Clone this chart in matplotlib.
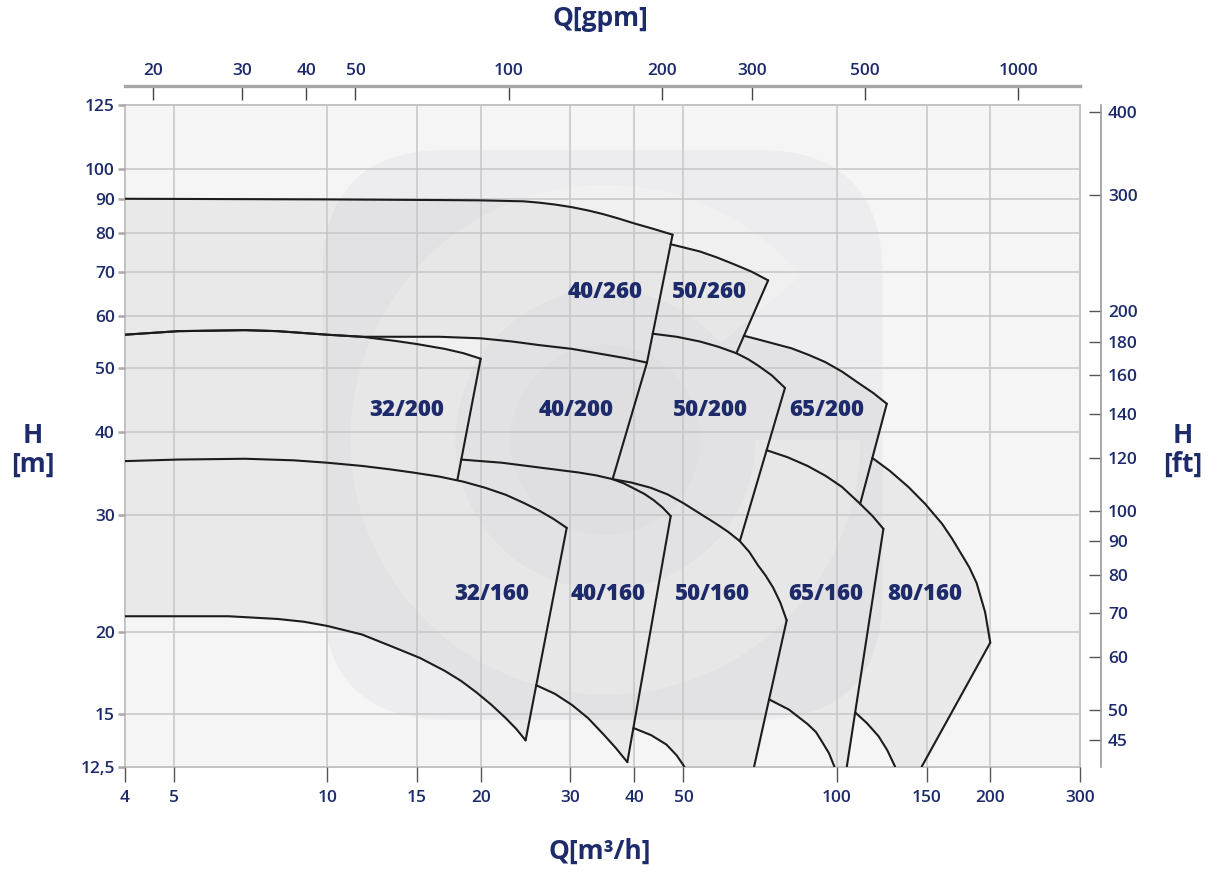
import matplotlib
matplotlib.use("Agg")
import matplotlib.pyplot as plt
import matplotlib.transforms as mtransforms
from matplotlib.patches import Polygon, FancyBboxPatch, Wedge, Circle
from matplotlib.ticker import NullLocator


NAVY = "#1e2b6b"
LINE = "#1c1c1c"
FILL = "#e9e9e9"
BACKGROUND = "#f5f5f5"

M3H_TO_GPM = 4.40287
M_TO_FT = 3.28084

# axis ticks
Q_TICKS = [4, 5, 10, 15, 20, 30, 40, 50, 100, 150, 200, 300]
H_TICKS = [12.5, 15, 20, 30, 40, 50, 60, 70, 80, 90, 100, 125]
H_TICK_LABELS = ["12,5", "15", "20", "30", "40", "50", "60", "70", "80", "90", "100", "125"]
GPM_TICKS = [20, 30, 40, 50, 100, 200, 300, 500, 1000]
FT_TICKS = [45, 50, 60, 70, 80, 90, 100, 120, 140, 160, 180, 200, 300, 400]

# pump envelopes, (Q m3/h, H m)
TOP_40_260 = [(4, 90.2), (10, 90.0), (16.6, 89.8), (20.0, 89.7), (24.3, 89.4),
              (26.0, 89.0), (28.0, 88.4), (30.2, 87.6), (32.5, 86.6), (34.8, 85.5),
              (37.3, 84.2), (40.0, 82.8), (43.7, 81.2), (47.6, 79.6)]
RIGHT_40_260 = [(47.6, 79.6), (42.4, 51.0)]
BOTTOM_40_260 = [(4, 56.2), (5.1, 56.9), (6.9, 57.1), (8.0, 56.9), (10, 56.2),
                 (11.7, 55.8), (13.7, 55.8), (16.6, 55.8), (20.0, 55.5), (23.0, 54.9),
                 (26.1, 54.2), (30.2, 53.5), (34.8, 52.5), (38.5, 51.8), (42.4, 51.0)]

TOP_50_260 = [(47.2, 77.0), (53.8, 75.1), (58.0, 73.6), (62.6, 71.9), (68.0, 70.0),
              (73.3, 67.9)]
RIGHT_50_260 = [(73.3, 67.9), (63.5, 52.7)]

TOP_32_200 = [(4, 56.2), (5.1, 56.9), (6.9, 57.1), (8.0, 56.9), (10, 56.2),
              (11.7, 55.8), (13.6, 55.0), (15.0, 54.4), (17.0, 53.5), (18.5, 52.7),
              (20.0, 51.7)]
RIGHT_32_200 = [(20.0, 51.7), (18.0, 33.9)]

RIGHT_40_200 = [(42.4, 51.0), (36.3, 34.0)]

TOP_50_200 = [(43.5, 56.4), (48.5, 55.8), (53.8, 54.9), (58.5, 53.9), (63.5, 52.7),
              (67.0, 51.6), (70.0, 50.5), (74.5, 48.8), (79.1, 46.7)]
RIGHT_50_200 = [(79.1, 46.7), (64.5, 27.4)]

TOP_65_200 = [(65.7, 56.0), (70.0, 55.3), (81.5, 53.6), (88.0, 52.4), (94.9, 51.1),
              (102.5, 49.4), (110.3, 47.5), (117.8, 45.9), (125.3, 44.2)]
RIGHT_65_200 = [(125.3, 44.2), (111.1, 31.2)]

TOP_32_160 = [(4, 36.2), (5.1, 36.4), (6.9, 36.5), (8.6, 36.3), (10, 36.0),
              (11.7, 35.6), (13.2, 35.2), (14.7, 34.8), (16.6, 34.3), (18.5, 33.7),
              (20.4, 33.0), (22.4, 32.2), (24.3, 31.3), (26.0, 30.5), (27.8, 29.6),
              (29.5, 28.7)]
RIGHT_32_160 = [(29.5, 28.7), (24.5, 13.7)]
BOTTOM_32_160 = [(4, 21.1), (5, 21.1), (6.4, 21.1), (8.0, 20.9), (9.0, 20.7),
                 (10, 20.4), (11.7, 19.8), (13.6, 18.9), (15.2, 18.25), (17.0, 17.45),
                 (18.3, 16.85), (19.6, 16.2), (21.0, 15.5), (22.4, 14.8), (23.5, 14.25),
                 (24.5, 13.7)]

TOP_40_160 = [(18.3, 36.4), (22.0, 36.0), (26.1, 35.4), (31.1, 34.8), (33.7, 34.45),
              (36.3, 34.0), (38.2, 33.5), (40.0, 32.9), (41.9, 32.3), (43.7, 31.6),
              (45.5, 30.8), (47.2, 29.9)]
RIGHT_40_160 = [(47.2, 29.9), (38.8, 12.7)]
BOTTOM_40_160 = [(25.7, 16.6), (28.0, 16.1), (30.2, 15.5), (32.5, 14.8), (34.8, 14.0),
                 (36.8, 13.35), (38.8, 12.7)]

TOP_50_160 = [(36.3, 34.0), (39.5, 33.6), (43.1, 33.0), (46.5, 32.25), (49.9, 31.3),
              (58.0, 29.1), (61.2, 28.3), (64.5, 27.4), (67.3, 26.4), (70.0, 25.2),
              (72.5, 24.3), (75.0, 23.3), (77.5, 22.1), (79.7, 20.8)]
RIGHT_50_160 = [(79.7, 20.8), (68.8, 12.5)]
BOTTOM_50_160 = [(39.9, 14.3), (43.2, 13.95), (46.3, 13.5), (48.5, 13.0), (50.2, 12.5)]

TOP_65_160 = [(72.8, 37.6), (80.0, 36.7), (87.6, 35.6), (95.0, 34.4), (102.3, 33.1),
              (111.1, 31.2), (117.5, 29.9), (123.4, 28.6)]
RIGHT_65_160 = [(123.4, 28.6), (104.6, 12.5)]
BOTTOM_65_160 = [(73.6, 15.8), (80.5, 15.25), (87.6, 14.5), (91.0, 14.1),
                 (93.7, 13.6), (96.5, 13.1), (98.9, 12.5)]

TOP_80_160 = [(117.4, 36.6), (127.0, 35.0), (138.1, 33.1), (149.0, 31.2),
              (160.9, 29.1), (168.0, 27.7), (175.5, 26.2), (182.0, 25.0),
              (188.0, 23.7), (195.4, 21.4), (200, 19.25)]
RIGHT_80_160 = [(200, 19.25), (146.7, 12.5)]
BOTTOM_80_160 = [(108.6, 15.1), (114.5, 14.55), (120.7, 13.9), (125.5, 13.25),
                 (130.1, 12.5)]

# model name -> label anchor (Q, H)
LABELS = {
    "40/260": (35.1, 65.1),
    "50/260": (56.1, 65.1),
    "32/200": (14.3, 43.3),
    "40/200": (30.8, 43.3),
    "50/200": (56.4, 43.3),
    "65/200": (95.6, 43.3),
    "32/160": (21.0, 22.8),
    "40/160": (35.6, 22.8),
    "50/160": (56.9, 22.8),
    "65/160": (95.2, 22.8),
    "80/160": (148.5, 22.8),
}


def upto(points, q):
    return [p for p in points if p[0] <= q]


def from_(points, q):
    return [p for p in points if p[0] >= q]


def region_outlines():
    return [
        TOP_40_260 + RIGHT_40_260[1:] + BOTTOM_40_260[::-1],
        TOP_50_260 + RIGHT_50_260[1:] + upto(TOP_50_200, RIGHT_50_260[1][0])[::-1],
        TOP_32_200 + RIGHT_32_200[1:] + upto(TOP_32_160, RIGHT_32_200[1][0])[::-1],
        from_(BOTTOM_40_260, RIGHT_32_200[0][0]) + RIGHT_40_200[1:]
        + upto(TOP_40_160, RIGHT_40_200[1][0] - 0.1)[::-1] + [RIGHT_32_200[0]],
        TOP_50_200 + RIGHT_50_200[1:] + upto(TOP_50_160, RIGHT_50_200[1][0] - 0.1)[::-1]
        + [RIGHT_40_200[0]],
        TOP_65_200 + RIGHT_65_200[1:] + upto(TOP_65_160, RIGHT_65_200[1][0] - 0.1)[::-1]
        + [RIGHT_50_200[0], RIGHT_50_260[1]],
        TOP_32_160 + RIGHT_32_160[1:] + BOTTOM_32_160[::-1],
        TOP_40_160 + RIGHT_40_160[1:] + BOTTOM_40_160[:-1][::-1]
        + [RIGHT_32_160[0], RIGHT_32_200[1]],
        TOP_50_160 + RIGHT_50_160[1:] + BOTTOM_50_160[::-1] + [RIGHT_40_160[0]],
        TOP_65_160 + RIGHT_65_160[1:] + BOTTOM_65_160[::-1]
        + [RIGHT_50_160[0], RIGHT_50_200[1]],
        TOP_80_160 + RIGHT_80_160[1:] + BOTTOM_80_160[::-1]
        + [RIGHT_65_160[0], RIGHT_65_200[1]],
    ]


def visible_lines():
    return [
        TOP_40_260, RIGHT_40_260, BOTTOM_40_260,
        TOP_50_260, RIGHT_50_260,
        TOP_32_200, RIGHT_32_200, RIGHT_40_200,
        TOP_50_200, RIGHT_50_200,
        TOP_65_200, RIGHT_65_200,
        TOP_32_160, RIGHT_32_160, BOTTOM_32_160,
        TOP_40_160, RIGHT_40_160, BOTTOM_40_160,
        TOP_50_160, RIGHT_50_160, BOTTOM_50_160,
        TOP_65_160, RIGHT_65_160, BOTTOM_65_160,
        TOP_80_160, RIGHT_80_160, BOTTOM_80_160,
    ]


def draw_watermark(ax, w_px, h_px):
    # faint company mark behind the curves, sized in axes pixels
    tr = mtransforms.Affine2D().scale(1 / w_px, 1 / h_px) + ax.transAxes
    ax.add_patch(FancyBboxPatch((198, 47), 560, 570,
                                boxstyle="round,pad=0,rounding_size=125",
                                facecolor="#4a5080", alpha=0.045, edgecolor="none",
                                transform=tr, zorder=1.5))
    ax.add_patch(Wedge((481, 327), 255, 40, 360, width=105,
                       facecolor="white", alpha=0.18, edgecolor="none",
                       transform=tr, zorder=1.6))
    ax.add_patch(Circle((481, 327), 95, facecolor="#4a5080", alpha=0.02,
                        edgecolor="none", transform=tr, zorder=1.6))


def main():
    plt.rcParams.update({
        "font.family": ["Open Sans", "DejaVu Sans"],
        "axes.edgecolor": "#b8b8b8",
        "axes.linewidth": 1.2,
    })
    fig = plt.figure(figsize=(12.11, 8.73), dpi=100, facecolor="white")
    ax_w_px, ax_h_px = 955.5, 661.7
    ax = fig.add_axes([124.5 / 1211, 106.3 / 873, ax_w_px / 1211, ax_h_px / 873])
    ax.set_facecolor(BACKGROUND)
    ax.set_xscale("log")
    ax.set_yscale("log")
    ax.set_xlim(4, 300)
    ax.set_ylim(12.5, 125)

    for pts in region_outlines():
        ax.add_patch(Polygon(pts, closed=True, facecolor=FILL, edgecolor="none", zorder=1))
    draw_watermark(ax, ax_w_px, ax_h_px)
    for pts in visible_lines():
        q, h = zip(*pts)
        ax.plot(q, h, color=LINE, lw=1.5, solid_joinstyle="round",
                solid_capstyle="round", zorder=3)

    for name, (q, h) in LABELS.items():
        ax.text(q, h, name, ha="center", va="center", fontsize=16,
                fontweight="heavy", color=NAVY, zorder=4)

    ax.set_xticks(Q_TICKS, labels=[str(v) for v in Q_TICKS])
    ax.set_yticks(H_TICKS, labels=H_TICK_LABELS)
    ax.xaxis.set_minor_locator(NullLocator())
    ax.yaxis.set_minor_locator(NullLocator())
    ax.set_axisbelow(False)
    ax.grid(True, color="#c6c6c6", lw=1.1)
    ax.tick_params(axis="x", direction="out", length=11, width=1, color="#555555",
                   labelsize=12.5, labelcolor=NAVY, pad=6)
    ax.tick_params(axis="y", direction="out", length=5, width=1.8, color="#a8a8a8",
                   labelsize=12.5, labelcolor=NAVY, pad=2)
    for lab in ax.get_xticklabels() + ax.get_yticklabels():
        lab.set_fontweight("semibold")

    top = ax.secondary_xaxis(1 + 19 / ax_h_px,
                             functions=(lambda q: q * M3H_TO_GPM, lambda g: g / M3H_TO_GPM))
    top.set_xticks(GPM_TICKS, labels=[str(v) for v in GPM_TICKS])
    top.xaxis.set_minor_locator(NullLocator())
    top.tick_params(axis="x", direction="in", length=10, width=1, color="#444444",
                    labelsize=12.5, labelcolor=NAVY, pad=5)
    top.spines["top"].set_color("#a6a6a6")
    top.spines["top"].set_linewidth(2.4)

    right = ax.secondary_yaxis(1 + 21 / ax_w_px,
                               functions=(lambda m: m * M_TO_FT, lambda f: f / M_TO_FT))
    right.set_yticks(FT_TICKS, labels=[str(v) for v in FT_TICKS])
    right.yaxis.set_minor_locator(NullLocator())
    right.tick_params(axis="y", direction="in", length=8.5, width=1, color="#555555",
                      labelsize=12.5, labelcolor=NAVY, pad=5)
    right.spines["right"].set_color("#999999")
    right.spines["right"].set_linewidth(1.2)

    for lab in top.xaxis.get_ticklabels() + right.yaxis.get_ticklabels():
        lab.set_fontweight("semibold")

    title_kw = dict(ha="center", va="center", color=NAVY, fontsize=19, fontweight="bold")
    fig.text(600 / 1211, 1 - 18 / 873, "Q[gpm]", **title_kw)
    fig.text(600 / 1211, 1 - 851 / 873, "Q[m³/h]", **title_kw)
    fig.text(33 / 1211, 1 - 450 / 873, "H\n[m]", linespacing=1.05, **title_kw)
    fig.text(1183 / 1211, 1 - 450 / 873, "H\n[ft]", linespacing=1.05, **title_kw)

    fig.savefig("out.png", dpi=100, facecolor="white")
    plt.close(fig)


if __name__ == "__main__":
    main()
